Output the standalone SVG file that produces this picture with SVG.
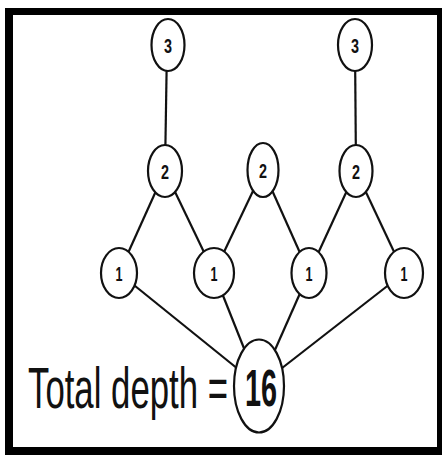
<svg xmlns="http://www.w3.org/2000/svg" width="442" height="455" viewBox="0 0 442 455">
<style>
.n ellipse{fill:#fff;stroke:#111;stroke-width:2.2}
.n text{font-family:"Liberation Sans",Arial,sans-serif;font-weight:bold;font-size:21px;fill:#111;text-anchor:middle}
#edges line{stroke:#111;stroke-width:2.2}
</style>
<rect x="0" y="0" width="442" height="455" fill="#fff"/>
<rect x="5" y="8" width="437" height="447" fill="#000"/>
<rect x="13" y="15" width="424" height="432" fill="#fff"/>
<g id="edges">
<line x1="167" y1="45" x2="165" y2="171"/>
<line x1="355" y1="45" x2="356" y2="171"/>
<line x1="165" y1="171" x2="119" y2="273"/>
<line x1="165" y1="171" x2="214" y2="273"/>
<line x1="263" y1="170" x2="214" y2="273"/>
<line x1="263" y1="170" x2="309" y2="273"/>
<line x1="356" y1="171" x2="309" y2="273"/>
<line x1="356" y1="171" x2="404" y2="273"/>
<line x1="119" y1="273" x2="259" y2="386"/>
<line x1="214" y1="273" x2="259" y2="386"/>
<line x1="309" y1="273" x2="259" y2="386"/>
<line x1="404" y1="273" x2="259" y2="386"/>
</g>
<g id="n3a" class="n"><ellipse cx="168" cy="45" rx="16.5" ry="26"/><text x="168" y="53" textLength="8" lengthAdjust="spacingAndGlyphs">3</text></g>
<g id="n3b" class="n"><ellipse cx="355" cy="45" rx="17" ry="26"/><text x="355" y="53" textLength="8" lengthAdjust="spacingAndGlyphs">3</text></g>
<g id="n2a" class="n"><ellipse cx="165" cy="171" rx="17" ry="26"/><text x="165" y="179" textLength="8" lengthAdjust="spacingAndGlyphs">2</text></g>
<g id="n2b" class="n"><ellipse cx="263" cy="170" rx="15.5" ry="27"/><text x="263" y="178" textLength="8" lengthAdjust="spacingAndGlyphs">2</text></g>
<g id="n2c" class="n"><ellipse cx="356" cy="171" rx="16.5" ry="26"/><text x="356" y="179" textLength="8" lengthAdjust="spacingAndGlyphs">2</text></g>
<g id="n1a" class="n"><ellipse cx="119" cy="273" rx="18" ry="25"/><text x="119" y="281" textLength="7" lengthAdjust="spacingAndGlyphs">1</text></g>
<g id="n1b" class="n"><ellipse cx="214" cy="273" rx="20" ry="25"/><text x="214" y="281" textLength="7" lengthAdjust="spacingAndGlyphs">1</text></g>
<g id="n1c" class="n"><ellipse cx="309" cy="273" rx="17.5" ry="25"/><text x="309" y="281" textLength="7" lengthAdjust="spacingAndGlyphs">1</text></g>
<g id="n1d" class="n"><ellipse cx="404" cy="273" rx="19" ry="25"/><text x="404" y="281" textLength="7" lengthAdjust="spacingAndGlyphs">1</text></g>
<g id="n16" class="n"><ellipse cx="259" cy="386" rx="25" ry="46.5"/><text transform="translate(261,406) scale(0.554,1)" style="font-size:52px">16</text></g>
<text transform="translate(28,408) scale(0.61,1)" font-family="'Liberation Sans',Arial,sans-serif" font-size="57" fill="#111">Total depth =</text>
</svg>
